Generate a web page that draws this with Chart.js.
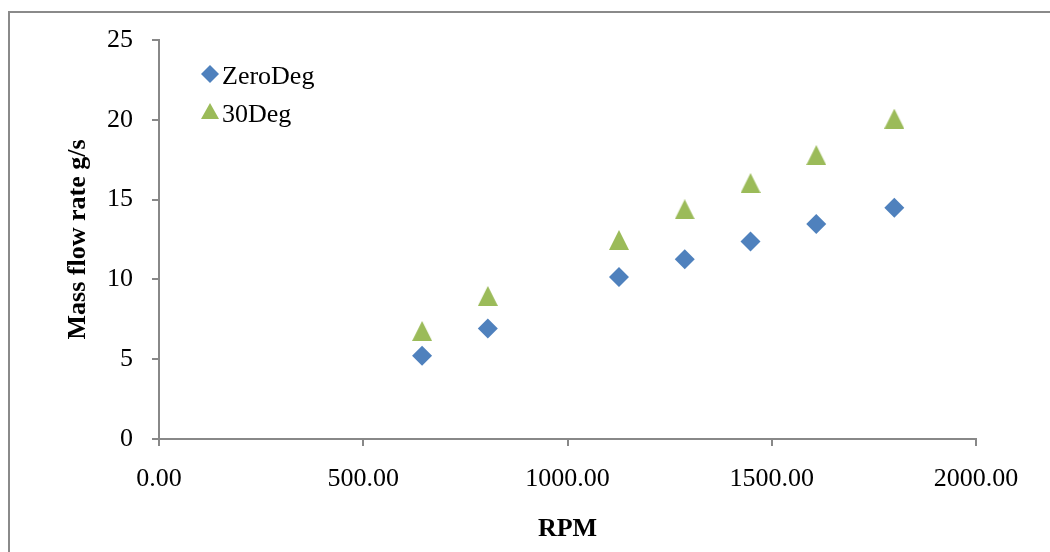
<!DOCTYPE html>
<html>
<head>
<meta charset="utf-8">
<title>Mass flow rate vs RPM</title>
<script src="https://cdn.jsdelivr.net/npm/chart.js@4.4.1/dist/chart.umd.min.js"></script>
<style>
  html, body { margin: 0; padding: 0; background: #fff; overflow: hidden; }
  #wrap { position: relative; width: 1050px; height: 552px; overflow: hidden; }
  #frame {
    position: absolute; left: 8px; top: 11px; width: 1200px; height: 700px;
    border-left: 2px solid #8a8a8a; border-top: 2px solid #8a8a8a;
  }
  #chart { position: absolute; left: 0; top: 0; }
</style>
</head>
<body>
<div id="wrap">
  <div id="frame"></div>
  <canvas id="chart" width="1050" height="552"></canvas>
</div>
<script>
// data
var seriesNames = ['ZeroDeg', '30Deg'];
var rpm = [644, 805, 1126, 1287, 1448, 1609, 1800];
var zeroDeg = [5.22, 6.93, 10.15, 11.26, 12.38, 13.47, 14.49];
var thirtyDeg = [6.77, 8.96, 12.47, 14.39, 16.04, 17.79, 20.07];
var xTicks = [0, 500, 1000, 1500, 2000];
var yTicks = [0, 5, 10, 15, 20, 25];

var blue = '#4F81BD';
var green = '#9BBB59';
var axisGray = '#888888';
var fontFamily = "'Liberation Serif', 'Times New Roman', serif";

// Excel-like triangle marker (bbox centred on the value)
function makeTriangle(w, h, color) {
  var c = document.createElement('canvas');
  c.width = w;
  c.height = h;
  var g = c.getContext('2d');
  g.fillStyle = color;
  g.beginPath();
  g.moveTo(w / 2, 0);
  g.lineTo(w, h);
  g.lineTo(0, h);
  g.closePath();
  g.fill();
  return c;
}
var triMarker = makeTriangle(20, 20, green);

function toPoints(xs, ys) {
  var pts = [];
  for (var i = 0; i < xs.length; i++) {
    pts.push({x: xs[i], y: ys[i]});
  }
  return pts;
}

// legend drawn inside the plot, top-left
var insideLegend = {
  id: 'insideLegend',
  afterDraw: function(chart) {
    var ctx = chart.ctx;
    var area = chart.chartArea;
    var mx = area.left + 51;
    var tx = area.left + 63;
    ctx.save();
    ctx.font = '26px ' + fontFamily;
    ctx.fillStyle = '#000';
    ctx.textBaseline = 'alphabetic';
    ctx.textAlign = 'left';

    // ZeroDeg
    var y1 = area.top + 34;
    ctx.fillStyle = blue;
    ctx.beginPath();
    ctx.moveTo(mx - 9, y1);
    ctx.lineTo(mx, y1 - 9);
    ctx.lineTo(mx + 9, y1);
    ctx.lineTo(mx, y1 + 9);
    ctx.closePath();
    ctx.fill();
    ctx.fillStyle = '#000';
    ctx.fillText(seriesNames[0], tx, area.top + 44);

    // 30Deg
    var y2 = area.top + 71;
    ctx.fillStyle = green;
    ctx.beginPath();
    ctx.moveTo(mx, y2 - 8);
    ctx.lineTo(mx + 9, y2 + 8);
    ctx.lineTo(mx - 9, y2 + 8);
    ctx.closePath();
    ctx.fill();
    ctx.fillStyle = '#000';
    ctx.fillText(seriesNames[1], tx, area.top + 81.5);
    ctx.restore();
  }
};

var ctx = document.getElementById('chart');
new Chart(ctx, {
  type: 'scatter',
  data: {
    datasets: [
      {
        label: seriesNames[0],
        data: toPoints(rpm, zeroDeg),
        pointStyle: 'rectRot',
        pointRadius: 10,
        pointHoverRadius: 10,
        pointBorderWidth: 0,
        backgroundColor: blue,
        borderColor: blue
      },
      {
        label: seriesNames[1],
        data: toPoints(rpm, thirtyDeg),
        pointStyle: triMarker,
        pointRadius: 10,
        pointHoverRadius: 10,
        pointBorderWidth: 0,
        backgroundColor: green,
        borderColor: green
      }
    ]
  },
  options: {
    responsive: false,
    animation: false,
    devicePixelRatio: 1,
    layout: {
      padding: {left: 0, top: 40, right: 74, bottom: 0}
    },
    plugins: {
      legend: {display: false},
      tooltip: {enabled: false}
    },
    scales: {
      x: {
        type: 'linear',
        min: 0,
        max: 2000,
        afterBuildTicks: function(scale) {
          scale.ticks = xTicks.map(function(v) { return {value: v}; });
        },
        afterFit: function(scale) { scale.height = 113; },
        grid: {drawOnChartArea: false, drawTicks: true, tickLength: 7, color: axisGray, lineWidth: 2},
        border: {color: axisGray, width: 2},
        ticks: {
          padding: 18,
          maxRotation: 0,
          color: '#000',
          font: {family: fontFamily, size: 26},
          callback: function(v) { return Number(v).toFixed(2); }
        },
        title: {
          display: true,
          text: 'RPM',
          color: '#000',
          font: {family: fontFamily, size: 26, weight: 'bold'},
          padding: {top: 0, bottom: 7}
        }
      },
      y: {
        type: 'linear',
        min: 0,
        max: 25,
        afterBuildTicks: function(scale) {
          scale.ticks = yTicks.map(function(v) { return {value: v}; });
        },
        afterFit: function(scale) { scale.width = 159; },
        grid: {drawOnChartArea: false, drawTicks: true, tickLength: 7, color: axisGray, lineWidth: 2},
        border: {color: axisGray, width: 2},
        ticks: {
          padding: 19,
          color: '#000',
          font: {family: fontFamily, size: 26}
        },
        title: {
          display: true,
          text: 'Mass flow rate g/s',
          color: '#000',
          font: {family: fontFamily, size: 26, weight: 'bold'},
          padding: {top: 63, bottom: 0}
        }
      }
    }
  },
  plugins: [insideLegend]
});
</script>
</body>
</html>
